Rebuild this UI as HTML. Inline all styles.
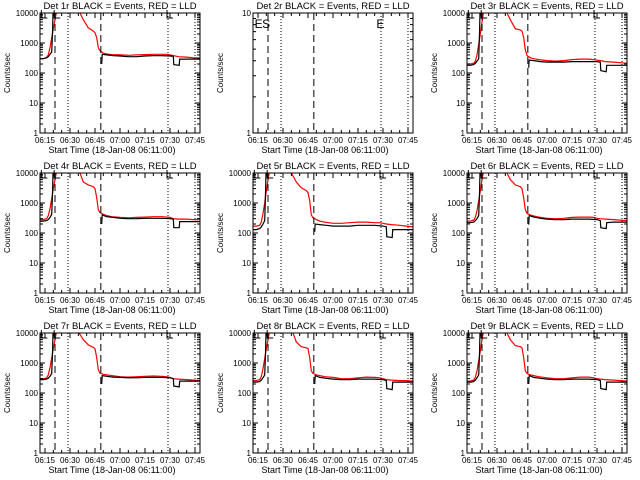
<!DOCTYPE html>
<html><head><meta charset="utf-8"><style>
html,body{margin:0;padding:0;background:#fff;}
svg{display:block;font-family:"Liberation Sans",sans-serif;}
</style></head><body>
<svg id="chart" width="640" height="480" viewBox="0 0 640 480" xmlns="http://www.w3.org/2000/svg"></svg>
<script>
// Shared time axes (minutes after 06:00)
const blackTimes = [12,14,16,17,18,19,19.5,20,30,49,49.3,52,56,60,65,70,75,80,85,90,92,92.3,95.5,95.8,100,104,108];
const redTimes = [12,14,16,17,18,19,20,21,22,30,36,38,41,44,45,46,47,48,50,52,55,60,65,70,75,80,85,88,90,92,95,100,104,108];
const xTickLabels = ["06:15","06:30","06:45","07:00","07:15","07:30","07:45"];
const xTickTimes = [15,30,45,60,75,90,105];
const dashedTimes = [21,48.5];
const dottedTimes = [28.8,88.8,105];
const panelTitles = ["Det 1r","Det 2r","Det 3r","Det 4r","Det 5r","Det 6r","Det 7r","Det 8r","Det 9r"];
// Events (black) per detector
const black1 = [300,300,320,350,420,500,2000,30000,null,200,420,400,380,370,350,350,370,380,380,370,360,190,180,290,290,290,290];
const black3 = [180,180,190,210,250,300,2000,30000,null,150,270,260,240,230,230,230,240,240,240,240,230,120,110,180,180,180,180];
const black4 = [250,250,260,280,330,420,2000,30000,null,200,400,350,330,310,300,300,310,310,310,300,290,150,150,240,240,240,240];
const black5 = [130,130,140,160,200,260,2000,30000,null,110,200,190,180,170,170,170,180,180,180,170,160,75,70,130,130,130,130];
const black6 = [220,220,230,260,300,380,2000,30000,null,190,380,340,310,290,280,280,290,290,290,280,260,150,140,220,230,230,230];
const black7 = [280,280,290,310,360,450,2000,30000,null,200,380,360,340,330,320,320,330,330,330,320,300,170,160,250,250,250,250];
const black8 = [230,230,240,270,320,400,2000,30000,null,200,380,330,310,290,280,280,290,290,290,280,260,140,130,230,230,230,230];
const black9 = [230,230,240,270,320,400,2000,30000,null,200,380,330,310,290,280,280,290,290,290,280,260,140,130,230,230,230,230];
// LLD (red) per detector
const red1 = [300,300,330,400,700,1500,3000,6000,12000,30000,10000,6000,3200,2500,2200,1500,700,550,460,430,410,400,390,400,410,420,420,420,400,380,350,340,320,320];
const red3 = [200,200,210,250,400,900,2000,5000,12000,30000,10000,6000,3000,2700,2500,1500,600,380,320,300,280,260,250,260,280,290,290,280,270,260,240,230,220,210];
const red4 = [280,280,300,380,650,1400,3000,6000,12000,30000,10000,5000,4000,3500,3000,1500,600,480,420,380,350,330,320,330,340,350,350,340,330,300,290,290,280,280];
const red5 = [170,170,180,230,450,1000,2500,6000,12000,30000,8000,5000,3200,2600,2200,1200,400,320,280,250,230,210,210,220,230,230,220,220,210,200,190,180,170,160];
const red6 = [250,250,270,330,550,1200,2500,6000,12000,30000,10000,6000,4000,3500,3000,1500,600,450,400,370,340,310,300,310,330,340,340,330,310,300,290,280,270,260];
const red7 = [300,300,320,400,700,1500,3000,6000,12000,30000,9000,6000,4000,3300,3000,1500,600,460,420,400,380,350,340,350,360,370,360,350,330,300,290,280,270,260];
const red8 = [260,260,280,350,650,1400,3000,6000,12000,30000,10000,5000,3500,3200,3000,1500,550,450,400,380,350,330,300,300,320,340,330,320,300,280,270,260,260,250];
const red9 = [250,250,270,330,550,1200,2500,6000,12000,30000,10000,6000,3800,3500,3200,1500,550,450,400,380,350,320,300,300,320,340,340,320,300,290,280,270,260,250];
const blackSeries = [black1,null,black3,black4,black5,black6,black7,black8,black9];
const redSeries = [red1,null,red3,red4,red5,red6,red7,red8,red9];

const NS = "http://www.w3.org/2000/svg";
const svg = document.getElementById("chart");
const colX = [40,253,467], rowY = [13,173,333], W = 160, H = 120;
const TMIN = 12, TMAX = 108;

function mk(tag, attrs, parent){
  const e = document.createElementNS(NS, tag);
  for (const k in attrs) e.setAttribute(k, attrs[k]);
  (parent||svg).appendChild(e);
  return e;
}

for (let p = 0; p < 9; p++) {
  const x0 = colX[p % 3], y0 = rowY[Math.floor(p / 3)];
  const empty = p === 1;
  const dmin = 0, dmax = empty ? 1 : 4;
  const sx = t => x0 + (t - TMIN) / (TMAX - TMIN) * W;
  const sy = v => y0 + H - (Math.log10(v) - dmin) / (dmax - dmin) * H;

  const g = mk("g", {});
  
  

  const clip = mk("clipPath", {id: "clip" + p}, g);
  mk("rect", {x: x0, y: y0, width: W, height: H}, clip);

  // series
  if (!empty) {
    const drawSeries = (times, vals, color, name) => {
      let d = "", pen = false;
      for (let i = 0; i < times.length; i++) {
        if (vals[i] == null) { pen = false; continue; }
        const X = sx(times[i]).toFixed(1), Y = sy(vals[i]).toFixed(1);
        d += (pen ? "L" : "M") + X + " " + Y + " ";
        pen = true;
      }
      const path = mk("path", {d: d, fill: "none", stroke: color, "stroke-width": 1.2, "clip-path": "url(#clip" + p + ")"}, g);
      
      
    };
    drawSeries(redTimes, redSeries[p], "#ff0000", "lld-line");
    drawSeries(blackTimes, blackSeries[p], "#000000", "events-line");
  }

  // vertical markers
  dashedTimes.forEach(t => {
    const l = mk("line", {x1: sx(t), x2: sx(t), y1: y0, y2: y0 + H, stroke: "#000", "stroke-width": 1, "stroke-dasharray": "7,4"}, g);
    
    
  });
  dottedTimes.forEach(t => {
    const l = mk("line", {x1: sx(t), x2: sx(t), y1: y0, y2: y0 + H, stroke: "#000", "stroke-width": 1, "stroke-dasharray": "1,2"}, g);
    
    
  });

  // annotations
  if (empty) {
    [["E", 13], ["S", 17.5], ["E", 86]].forEach(a => {
      const t = mk("text", {x: sx(a[1]), y: y0 + 15, "font-size": 12}, g);
      t.textContent = a[0];
      
      
    });
  } else {
    [12.8, 20.5, 88.2].forEach(t => {
      const X = sx(t);
      const b = mk("path", {d: `M${X} ${y0 - 3}V${y0 + 5}H${X + 6}`, fill: "none", stroke: "#000", "stroke-width": 1}, g);
      
      
    });
  }

  // box
  const box = mk("rect", {x: x0, y: y0, width: W, height: H, fill: "none", stroke: "#000", "stroke-width": 1}, g);
  
  

  // y ticks
  let td = "";
  for (let e = dmin; e <= dmax; e++) {
    const Y = sy(Math.pow(10, e));
    td += `M${x0} ${Y}h5M${x0 + W} ${Y}h-5`;
    const lab = mk("text", {x: x0 - 2, y: Y + 3, "font-size": 8, "text-anchor": "end"}, g);
    lab.textContent = String(Math.pow(10, e));
    
    
    if (e < dmax) for (let m = 2; m <= 9; m++) {
      const Ym = sy(m * Math.pow(10, e));
      td += `M${x0} ${Ym}h3M${x0 + W} ${Ym}h-3`;
    }
  }
  // x ticks
  xTickTimes.forEach((t, i) => {
    const X = sx(t);
    td += `M${X} ${y0 + H}v-5M${X} ${y0}v5`;
    const lab = mk("text", {x: X, y: y0 + H + 10, "font-size": 8, "text-anchor": "middle"}, g);
    lab.textContent = xTickLabels[i];
    
    
  });
  for (let t = 15; t <= TMAX; t += 5) {
    const X = sx(t);
    td += `M${X} ${y0 + H}v-3M${X} ${y0}v3`;
  }
  const ticks = mk("path", {d: td, stroke: "#000", "stroke-width": 1, fill: "none"}, g);
  
  

  // titles
  const title = mk("text", {x: x0 + W / 2, y: y0 - 4, "font-size": 9.5, "text-anchor": "middle"}, g);
  title.textContent = panelTitles[p] + " BLACK = Events, RED = LLD";
  
  

  const xt = mk("text", {x: x0 + W / 2 - 8, y: y0 + H + 20, "font-size": 9, "text-anchor": "middle"}, g);
  xt.textContent = "Start Time (18-Jan-08 06:11:00)";
  
  

  const yx = x0 - 30, yy = y0 + H / 2;
  const yt = mk("text", {x: yx, y: yy, "font-size": 8, "text-anchor": "middle", transform: `rotate(-90 ${yx} ${yy})`}, g);
  yt.textContent = "Counts/sec";
  
  
}
</script>
</body></html>
